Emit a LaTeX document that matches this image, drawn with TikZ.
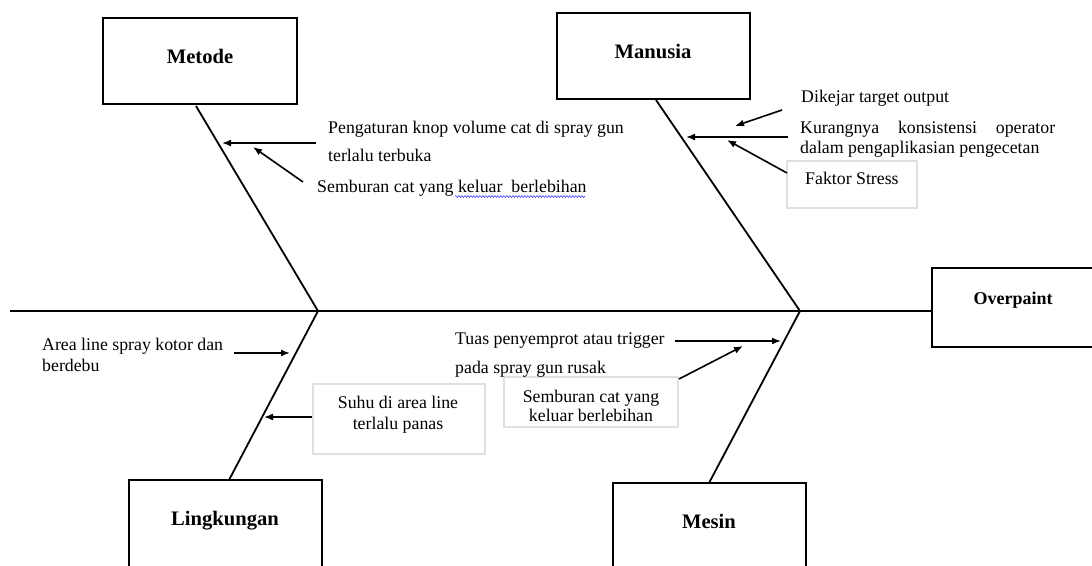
\documentclass[tikz,border=0pt]{standalone}
\usepackage{fontspec}
\setmainfont{Liberation Serif}
\usetikzlibrary{arrows.meta,decorations.pathmorphing}
\begin{document}
\begin{tikzpicture}[x=1pt,y=-1pt,
  bone/.style={line width=1.8pt,black},
  arr/.style={line width=1.6pt,-{Latex[length=9pt,width=7pt]}},
  catbox/.style={draw,line width=1.9pt,inner sep=0pt},
  softbox/.style={draw=black!12,line width=1.8pt,inner sep=0pt},
  cat/.style={font=\fontsize{20.6}{24}\selectfont\bfseries,anchor=base,inner sep=0pt},
  txt/.style={font=\fontsize{17.8}{21}\selectfont,anchor=base west,inner sep=0pt},
  ctxt/.style={font=\fontsize{17.8}{21}\selectfont,anchor=base,inner sep=0pt}]
\useasboundingbox (0,0) rectangle (1092,565);

% category boxes
\node[catbox,minimum width=194pt,minimum height=86pt] (metodebox) at (200,61) {};
\node[catbox,minimum width=193pt,minimum height=86pt] (manusiabox) at (653.5,56) {};
\node[catbox,minimum width=193pt,minimum height=100pt] (lingbox) at (225.5,530) {};
\node[catbox,minimum width=193pt,minimum height=100pt] (mesinbox) at (709.5,533) {};
\node[catbox,minimum width=180pt,minimum height=79pt] (overbox) at (1022,307.5) {};

\node[cat] (metode) at (200,63) {Metode};
\node[cat] (manusia) at (653,58) {Manusia};
\node[cat] (ling) at (225,525) {Lingkungan};
\node[cat] (mesin) at (709,528) {Mesin};
\node[cat,font=\fontsize{18}{22}\selectfont\bfseries] (over) at (1013,304) {Overpaint};

% light boxes
\node[softbox,minimum width=130pt,minimum height=47pt] (faktorbox) at (852,184.5) {};
\node[softbox,minimum width=172pt,minimum height=70pt] (suhubox) at (399,419) {};
\node[softbox,minimum width=174pt,minimum height=50pt] (sembbox) at (591,402) {};

% spine and bones
\coordinate (spinestart) at (10,311);
\coordinate (j1) at (318,311);
\coordinate (j2) at (800,311);
\coordinate (spineend) at (932,311);
\coordinate (mtop) at (196,106);
\coordinate (htop) at (656,100);
\coordinate (lbot) at (229,480);
\coordinate (sbot) at (709,483);
\draw[bone] (spinestart) -- (j1) -- (j2) -- (spineend);
\draw[bone] (mtop) -- (j1);
\draw[bone] (htop) -- (j2);
\draw[bone] (j1) -- (lbot);
\draw[bone] (j2) -- (sbot);

% Metode causes
\node[txt] (pengatur1) at (328,133) {Pengaturan knop volume cat di spray gun};
\node[txt] (pengatur2) at (328,161) {terlalu terbuka};
\node[txt] (semb1) at (317,192) {Semburan cat yang keluar\ \ berlebihan};
\draw[blue!75,line width=0.6pt,decorate,decoration={snake,amplitude=0.9pt,segment length=3pt}] (455,196.5) -- (585,196.5);
\coordinate (a1s) at (316,143); \coordinate (a1e) at (222,143);
\coordinate (a2s) at (303,182); \coordinate (a2e) at (253,147);
\draw[arr] (a1s) -- (a1e);
\draw[arr] (a2s) -- (a2e);

% Manusia causes
\node[txt] (dikejar) at (801,102) {Dikejar target output};
\node[txt] (kurang1) at (800,133) {\makebox[255pt][s]{Kurangnya konsistensi operator}};
\node[txt] (kurang2) at (800,153) {dalam pengaplikasian pengecetan};
\node[txt] (faktor) at (805,184) {Faktor Stress};
\coordinate (b1s) at (782,110); \coordinate (b1e) at (735,126);
\coordinate (b2s) at (788,137); \coordinate (b2e) at (686,137);
\coordinate (b3s) at (787,173); \coordinate (b3e) at (727,140);
\draw[arr] (b1s) -- (b1e);
\draw[arr] (b2s) -- (b2e);
\draw[arr] (b3s) -- (b3e);

% Lingkungan causes
\node[txt] (area1) at (42,350) {Area line spray kotor dan};
\node[txt] (area2) at (42,371) {berdebu};
\node[ctxt] (suhu1) at (398,408) {Suhu di area line};
\node[ctxt] (suhu2) at (398,429) {terlalu panas};
\coordinate (c1s) at (234,353); \coordinate (c1e) at (290,353);
\coordinate (c2s) at (312,417); \coordinate (c2e) at (264,417);
\draw[arr] (c1s) -- (c1e);
\draw[arr] (c2s) -- (c2e);

% Mesin causes
\node[txt] (tuas1) at (455,344) {Tuas penyemprot atau trigger};
\node[txt] (tuas2) at (455,373) {pada spray gun rusak};
\node[ctxt] (semb2a) at (591,402) {Semburan cat yang};
\node[ctxt] (semb2b) at (591,421) {keluar berlebihan};
\coordinate (d1s) at (675,341); \coordinate (d1e) at (781,341);
\coordinate (d2s) at (679,379); \coordinate (d2e) at (743,346);
\draw[arr] (d1s) -- (d1e);
\draw[arr] (d2s) -- (d2e);
\end{tikzpicture}
\end{document}
